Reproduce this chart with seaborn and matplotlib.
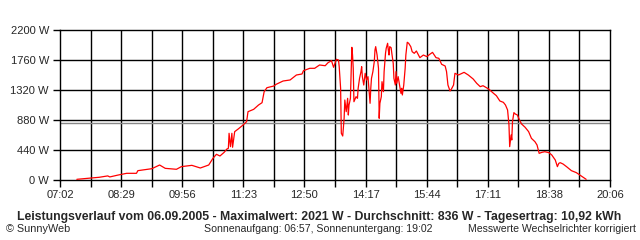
import numpy as np
import pandas as pd
import matplotlib
matplotlib.use("Agg")
import matplotlib.pyplot as plt
import seaborn as sns

# time in minutes after midnight, power in W
minutes = [446, 462, 478, 490, 493, 505, 517, 531, 533, 547, 553, 564, 572, 588, 595, 610, 622, 634,
           640, 645, 650, 656, 660, 662, 663, 665, 667, 668, 671, 676, 683, 688, 690, 698, 705, 710,
           713, 717, 727, 730, 740, 750, 759, 767, 769, 778, 785, 792,
           800, 804, 809, 812, 816, 819, 820, 822, 823, 825, 827, 828, 830, 832, 833, 834, 836, 838,
           839, 840, 841, 844, 846, 847, 849, 851, 852, 853, 855, 857, 859, 861, 863, 864, 865, 866,
           868, 870, 871, 872, 874, 876, 877, 878, 880, 881, 883, 884, 886, 887, 889, 890, 891, 892,
           894, 895, 897, 898, 900, 901, 902, 904, 906, 908, 909, 910, 912, 914, 915, 917, 919, 922,
           924, 927, 930, 935, 940, 945, 949, 953, 958, 962, 966, 971, 973, 975, 978, 980, 983, 985,
           990, 995, 998, 1004, 1011, 1016, 1021, 1025, 1030, 1033, 1040, 1044, 1049, 1054, 1057,
           1060, 1062, 1063, 1065, 1066, 1067, 1069, 1071, 1074, 1077, 1080, 1085, 1090, 1094, 1099,
           1102, 1105, 1109, 1113, 1119, 1123, 1128, 1131, 1133, 1135, 1139, 1144, 1151, 1158, 1163,
           1168, 1172]
power = [10, 25, 40, 60, 45, 73, 98, 98, 137, 157, 166, 220, 171, 157, 196, 215, 176, 220,
         318, 377, 352, 406, 455, 465, 685, 489, 685, 480, 709, 748, 807, 856, 1002, 1036, 1100, 1134,
         1295, 1354, 1379, 1403, 1452, 1467, 1540, 1555, 1603, 1638, 1638, 1687,
         1676, 1720, 1750, 1653, 1770, 1760, 1662, 1345, 685, 645, 905, 1173, 1002, 1198, 953, 1100, 1198, 1946,
         1833, 1638, 1148, 1222, 1198, 1345, 1491, 1589, 1662, 1516, 1393, 1565, 1467, 1516, 1247, 1125, 1345, 1491,
         1589, 1736, 1907, 1956, 1833, 1638, 905, 1125, 1222, 1442, 1295, 1589, 1858, 1931, 2005, 1907, 1833, 1956,
         1940, 1858, 1711, 1491, 1393, 1589, 1418, 1516, 1393, 1271, 1345, 1247, 1393, 1638, 1833, 2020, 2005, 1956,
         1882, 1858, 1892, 1794, 1833, 1809, 1843, 1872, 1794, 1785, 1697, 1672, 1589, 1393, 1305, 1335, 1393, 1565,
         1540, 1565, 1579, 1540, 1481, 1418, 1369, 1383, 1354, 1335, 1271, 1237, 1159, 1139, 1100,
         1027, 807, 489, 660, 587, 856, 988, 968, 953, 880, 821, 773, 709, 611, 562,
         513, 391, 406, 415, 401, 367, 293, 196, 244, 254, 235, 196, 137, 108, 73,
         39, 10]

x_tick_labels = ["07:02", "08:29", "09:56", "11:23", "12:50", "14:17", "15:44", "17:11", "18:38", "20:06"]
y_ticks = [0, 440, 880, 1320, 1760, 2200]
y_tick_labels = ["0 W", "440 W", "880 W", "1320 W", "1760 W", "2200 W"]
average_w = 836
x_start, x_end = 422, 1206

title = ("Leistungsverlauf vom 06.09.2005 - Maximalwert: 2021 W - Durchschnitt: 836 W - "
         "Tagesertrag: 10,92 kWh")
footer_left = "© SunnyWeb"
footer_mid = "Sonnenaufgang: 06:57, Sonnenuntergang: 19:02"
footer_right = "Messwerte Wechselrichter korrigiert"

sns.set_style("white")
plt.rcParams['font.family'] = ['Liberation Sans', 'DejaVu Sans']

df = pd.DataFrame({"min": minutes, "W": power})

fig = plt.figure(figsize=(6.4, 2.4), dpi=100)
ax = fig.add_axes([60 / 640, 1 - 180 / 240, 550 / 640, 150 / 240])

grid_x = np.linspace(x_start, x_end, 19)
for gx in grid_x[1:-1]:
    ax.axvline(gx, color="black", lw=1.0, zorder=1)
for gy in y_ticks[1:-1]:
    ax.axhline(gy, color="black", lw=1.0, zorder=1)
ax.axhline(average_w, color="#888888", lw=1.0, zorder=1)

sns.lineplot(data=df, x="min", y="W", color="red", lw=0.9, ax=ax, zorder=3)

ax.set_xlim(x_start, x_end)
ax.set_ylim(0, 2200)
ax.set_xticks(grid_x[::2])
ax.set_xticklabels(x_tick_labels, fontsize=8)
ax.set_xticks(grid_x, minor=True)
ax.set_yticks(y_ticks)
ax.set_yticklabels(y_tick_labels, fontsize=8)
ax.tick_params(axis="both", which="both", direction="out", length=5, width=1, color="black",
               bottom=True, left=True)
ax.tick_params(axis="x", which="major", pad=2)
ax.tick_params(axis="y", which="major", pad=3)
ax.set_xlabel("")
ax.set_ylabel("")
for s in ax.spines.values():
    s.set_color("black")
    s.set_linewidth(1.0)
    s.set_visible(True)

fig.text(319.5 / 640, 1 - 217 / 240, title, ha="center", va="center", fontsize=8.8, fontweight="bold")
fig.text(6 / 640, 1 - 229 / 240, footer_left, ha="left", va="center", fontsize=7.8)
fig.text(204 / 640, 1 - 229 / 240, footer_mid, ha="left", va="center", fontsize=7.6)
fig.text(636 / 640, 1 - 229 / 240, footer_right, ha="right", va="center", fontsize=7.6)

fig.savefig("out.png", dpi=100, facecolor="white")
